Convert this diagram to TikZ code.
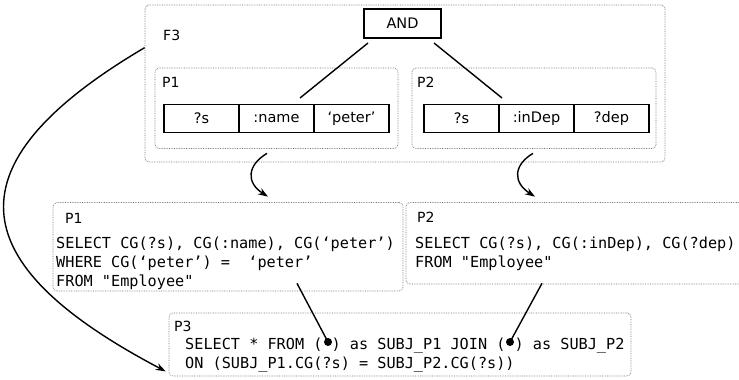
\documentclass[tikz,border=0pt]{standalone}
\usepackage{fontspec}
\setmainfont{DejaVu Sans}
\setmonofont{DejaVu Sans Mono}
\usetikzlibrary{arrows.meta,positioning}

\begin{document}
\begin{tikzpicture}[
  x=1pt,y=-1pt,
  node distance=0pt,
  frame/.style={draw=black!55,densely dotted,line width=0.7pt,rounded corners=4pt,inner sep=0pt},
  cell/.style={draw,line width=1.6pt,minimum width=75pt,minimum height=28pt,outer sep=0pt,inner sep=0pt,font=\fontsize{14.5}{17}\selectfont},
  lbl/.style={anchor=base west,inner sep=0pt,font=\fontsize{14}{17}\selectfont},
  code/.style={anchor=base west,inner sep=0pt,align=left,font=\ttfamily\fontsize{15.2}{18.8}\selectfont},
  link/.style={line width=1.4pt},
  arr/.style={-{Stealth[length=10pt,width=7pt]},line width=1.4pt},
  dotmark/.style={circle,fill,inner sep=0pt,minimum size=8pt}
]
\useasboundingbox (0,0) rectangle (739,380);
\clip (0,0) rectangle (739,380);

% formula F3 with its two patterns
\node[frame,minimum width=520pt,minimum height=157pt] (f3) at (405,83.5) {};
\node[lbl] (f3lbl) at (163,40) {F3};
\node[cell,minimum width=77pt,minimum height=29pt] (and) at (402.5,23.5) {AND};

\node[frame,minimum width=243pt,minimum height=80.5pt] (pone) at (276.5,108.25) {};
\node[lbl] (ponelbl) at (162,87) {P1};
\node[cell] (ps) at (201.5,118.5) {?s};
\node[cell,right=of ps] (pname) {:name};
\node[cell,right=of pname] (ppeter) {‘peter’};

\node[frame,minimum width=244pt,minimum height=80.5pt] (ptwo) at (534,108.25) {};
\node[lbl] (ptwolbl) at (417,87) {P2};
\node[cell] (qs) at (461.5,118.5) {?s};
\node[cell,right=of qs] (qindep) {:inDep};
\node[cell,right=of qindep] (qdep) {?dep};

\draw[link] ([xshift=4pt,yshift=-5pt]and.south west) -- ([xshift=23.5pt,yshift=6.5pt]pname.north);
\draw[link] ([xshift=-7pt,yshift=-5pt]and.south east) -- ([xshift=3pt,yshift=6.5pt]qindep.north west);

% SQL per pattern
\node[frame,minimum width=350pt,minimum height=88.5pt] (sqlone) at (228,246.75) {};
\node[lbl] (sqlonelbl) at (65,223) {P1};
\node[code] (codeone) at (56,286.1) {SELECT CG(?s), CG(:name), CG(‘peter’)\\WHERE CG(‘peter’) = \ ‘peter’\\FROM "Employee"};

\node[frame,minimum width=340pt,minimum height=81.5pt] (sqltwo) at (576,243.25) {};
\node[lbl] (sqltwolbl) at (417,222) {P2};
\node[code] (codetwo) at (415,267.3) {SELECT CG(?s), CG(:inDep), CG(?dep)\\FROM "Employee"};

% joined query
\node[frame,minimum width=462pt,minimum height=63pt] (pthree) at (400,344.5) {};
\node[lbl] (pthreelbl) at (174,331) {P3};
\node[code] (codethree) at (185,368.3) {SELECT * FROM ( ) as SUBJ\_P1 JOIN ( ) as SUBJ\_P2\\ON (SUBJ\_P1.CG(?s) = SUBJ\_P2.CG(?s))};
\node[dotmark] (dotone) at (328,342) {};
\node[dotmark] (dottwo) at (510,342) {};

\draw[arr] ([xshift=-9.5pt,yshift=-4.5pt]pone.south) .. controls +(-20,12) and +(-22,-14) .. ([xshift=40pt,yshift=5.5pt]sqlone.north);
\draw[arr] ([xshift=-1pt,yshift=-4.5pt]ptwo.south) .. controls +(-20,12) and +(-22,-14) .. ([xshift=-41pt,yshift=5.5pt]sqltwo.north);
\draw[arr] ([yshift=-43pt]f3.north west) .. controls +(-207,122) and +(-194,-102) .. ([xshift=-3pt,yshift=5pt]pthree.south west);
\draw[link] ([xshift=69pt,yshift=8pt]sqlone.south) -- (dotone.center);
\draw[link] ([xshift=-34pt,yshift=1pt]sqltwo.south) -- (dottwo.center);
\end{tikzpicture}
\end{document}
